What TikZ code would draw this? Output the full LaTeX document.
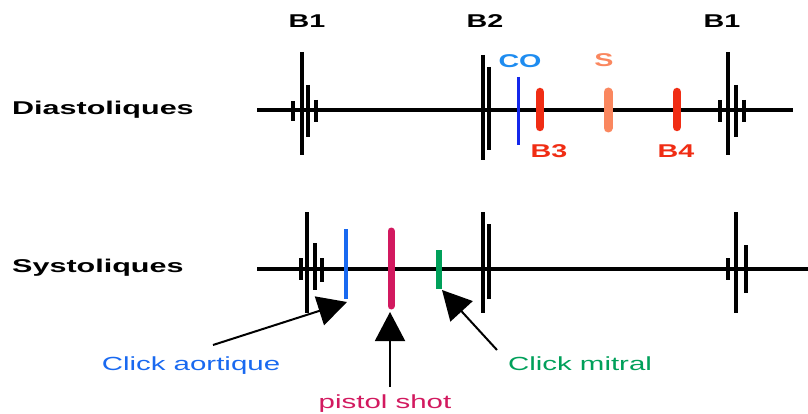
\documentclass[tikz,border=0pt]{standalone}
\usepackage{fontspec}
\setmainfont{Liberation Sans}
\usetikzlibrary{arrows.meta}
\definecolor{coblue}{RGB}{30,140,240}
\definecolor{colineblue}{RGB}{20,40,235}
\definecolor{aoblue}{RGB}{25,105,240}
\definecolor{bred}{RGB}{240,45,20}
\definecolor{ssalmon}{RGB}{250,135,95}
\definecolor{pistol}{RGB}{210,25,95}
\definecolor{mitral}{RGB}{0,160,90}
\newcommand{\wide}[1]{\scalebox{1.55}[1]{#1}}
\newcommand{\wider}[1]{\scalebox{1.65}[1]{#1}}
\begin{document}
\begin{tikzpicture}[x=1pt,y=-1pt,
  baseline/.style={line width=3.6pt},
  tick/.style={line width=3.2pt},
  fattick/.style={line width=4.8pt},
  bar/.style={line width=#1, line cap=round},
  boldlbl/.style={font=\fontsize{18.5}{20}\selectfont\bfseries, inner sep=0pt, anchor=base},
  rowlbl/.style={boldlbl, anchor=base west},
  thinlbl/.style={font=\fontsize{19}{21}\selectfont, inner sep=0pt, anchor=base},
  pointer/.style={line width=2pt, -{Triangle[length=29pt,width=30pt]}}
]
\useasboundingbox (0,0) rectangle (808,414);

% ---- row titles ----
\node[rowlbl] (dia) at (12,115) {\wider{Diastoliques}};
\node[rowlbl] (sys) at (12,272) {\wider{Systoliques}};

% ---- sound names above / below the diastolic trace ----
\node[boldlbl] (b1a) at (307,28) {\wide{B1}};
\node[boldlbl] (b2)  at (485,28) {\wide{B2}};
\node[boldlbl] (b1b) at (722,28) {\wide{B1}};
\node[boldlbl, text=coblue] (co) at (520,68) {\wide{CO}};
\node[boldlbl, text=ssalmon] (s) at (604,67) {\wide{S}};
\node[boldlbl, text=bred] (b3) at (549,158) {\wide{B3}};
\node[boldlbl, text=bred] (b4) at (676,158) {\wide{B4}};

% ---- diastolic trace ----
\draw[baseline] (257,110) -- (793,110);
% first B1
\draw[fattick] (293,101) -- (293,121);
\draw[tick] (302,52) -- (302,155);
\draw[tick] (308,85) -- (308,137);
\draw[tick] (316,100) -- (316,122);
% B2
\draw[tick] (483,55) -- (483,160);
\draw[tick] (489,67) -- (489,150);
% extra sounds
\draw[colineblue, line width=3pt] (518,77) -- (518,145);
\draw[bred, bar=8.5pt] (540,92) -- (540,127);
\draw[ssalmon, bar=9pt] (608,92) -- (608,128);
\draw[bred, bar=8.5pt] (677,92) -- (677,127);
% second B1
\draw[tick] (720,100) -- (720,122);
\draw[tick] (728,52) -- (728,155);
\draw[tick] (736,85) -- (736,137);
\draw[tick] (744,100) -- (744,122);

% ---- systolic trace ----
\draw[baseline] (257,269) -- (808,269);
% B1
\draw[tick] (301,258) -- (301,280);
\draw[tick] (307,212) -- (307,313);
\draw[tick] (315,243) -- (315,290);
\draw[fattick] (322,258) -- (322,282);
% clicks
\draw[aoblue, line width=3.6pt] (346,229) -- (346,299);
\draw[pistol, bar=7pt] (391,231) -- (391,306);
\draw[mitral, line width=6pt] (439,250) -- (439,289);
% B2
\draw[tick] (483,212) -- (483,313);
\draw[tick] (489,224) -- (489,299);
% next B1
\draw[tick] (728,258) -- (728,280);
\draw[tick] (736,212) -- (736,313);
\draw[fattick] (746,245) -- (746,293);

% ---- captions with pointers ----
\node[thinlbl, text=aoblue] (ca) at (191,370) {\wide{Click aortique}};
\node[thinlbl, text=pistol] (ps) at (385,408) {\wide{pistol shot}};
\node[thinlbl, text=mitral] (cm) at (580,370) {\wide{Click mitral}};

\coordinate (caTip) at (347,302);
\coordinate (psTip) at (390,312);
\coordinate (cmTip) at (442,290);
\coordinate (caTail) at (213,345);
\coordinate (psTail) at (390,387);
\coordinate (cmTail) at (497,350);
\draw[pointer] (caTail) -- (caTip);
\draw[pointer] (psTail) -- (psTip);
\draw[pointer] (cmTail) -- (cmTip);
\end{tikzpicture}
\end{document}
